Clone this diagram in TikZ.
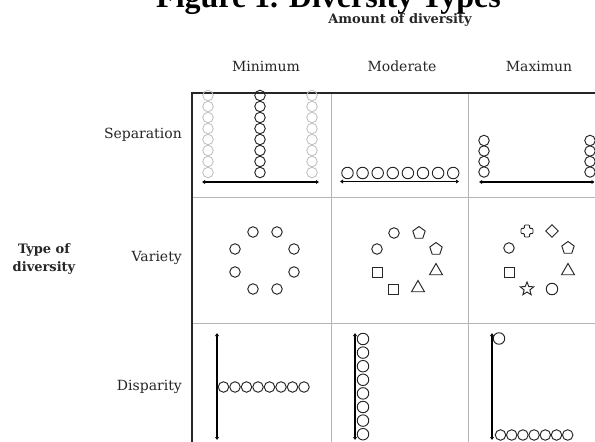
\documentclass[tikz,border=0pt]{standalone}
\usepackage{fontspec}
\setmainfont{DejaVu Serif}
\newfontfamily\titlefont{Liberation Serif}
\usetikzlibrary{shapes.geometric,arrows.meta}
\definecolor{ink}{HTML}{262626}
\definecolor{gridc}{HTML}{B4B4B4}
\definecolor{pale}{HTML}{C4C4C4}
\tikzset{
  lab/.style={font=\fontsize{14}{16}\selectfont, text=ink, inner sep=0},
  hd/.style={font=\bfseries\fontsize{13}{18}\selectfont, text=ink, inner sep=0},
  bord/.style={draw=ink, line width=1.4pt},
  gridln/.style={draw=gridc, line width=0.8pt},
  dot/.style={circle, draw=ink, line width=0.95pt, minimum size=10.5pt, inner sep=0},
  bigdot/.style={dot, minimum size=11.5pt},
  ghost/.style={dot, draw=pale},
  pent/.style={regular polygon, regular polygon sides=5, draw=ink, line width=0.95pt, minimum size=13pt, inner sep=0},
  tri/.style={regular polygon, regular polygon sides=3, draw=ink, line width=0.95pt, minimum size=15pt, inner sep=0},
  sq/.style={rectangle, draw=ink, line width=0.95pt, minimum size=10pt, inner sep=0},
  dia/.style={diamond, draw=ink, line width=0.95pt, minimum size=13pt, inner sep=0},
  starsh/.style={star, star points=5, star point ratio=2.3, draw=ink, line width=0.95pt, minimum size=14pt, inner sep=0},
  span/.style={draw=black, line width=1.4pt, {Latex[length=3pt,width=4.5pt]}-{Latex[length=3pt,width=4.5pt]}},
}
\begin{document}
\begin{tikzpicture}[x=1pt,y=-1pt]
\useasboundingbox (0,0) rectangle (595,442);
\clip (0,0) rectangle (595,442);
\fill[white] (0,0) rectangle (595,442);

% title (cut at the top edge, as in the reference)
\node[anchor=base west, inner sep=0, text=black, font=\titlefont\bfseries\fontsize{32}{34}\selectfont] (title) at (156,7) {Figure 1. Diversity Types};

% headings
\node[hd] (amount) at (400,20) {Amount of diversity};
\node[lab] (cmin) at (266,66) {Minimum};
\node[lab] (cmod) at (402,66) {Moderate};
\node[lab] (cmax) at (539,66) {Maximun};
\node[hd, align=center] (type) at (44,259) {Type of\\diversity};
\node[lab, anchor=east] (rsep) at (182,135) {Separation};
\node[lab, anchor=east] (rvar) at (182,258) {Variety};
\node[lab, anchor=east] (rdis) at (182,387) {Disparity};

% grid
\draw[gridln] (331,93) -- (331,442);
\draw[gridln] (468,93) -- (468,442);
\draw[gridln] (192,197) -- (595,197);
\draw[gridln] (192,323) -- (595,323);
\draw[bord] (595,93) -- (192,93) -- (192,442);

% Separation / Minimum
\foreach \i in {0,...,7} {
  \node[ghost] (sa\i) at (208,{95.5+11*\i}) {};
  \node[dot]   (sb\i) at (260,{95.5+11*\i}) {};
  \node[ghost] (sc\i) at (312,{95.5+11*\i}) {};
}
\coordinate (s1l) at (202,182);
\coordinate (s1r) at (319,182);
\draw[span] (s1l) -- (s1r);

% Separation / Moderate
\foreach \i in {0,...,7} {
  \node[bigdot] (sm\i) at ({347.5+15.1*\i},173) {};
}
\coordinate (s2l) at (340,181.5);
\coordinate (s2r) at (459,181.5);
\draw[span] (s2l) -- (s2r);

% Separation / Maximum
\foreach \i in {0,...,3} {
  \node[dot] (sl\i) at (484,{140.5+10.5*\i}) {};
  \node[dot] (sr\i) at (590,{140.5+10.5*\i}) {};
}
\coordinate (s3l) at (479,182);
\coordinate (s3r) at (594.5,182);
\draw[span] (s3l) -- (s3r);

% Variety / Minimum
\node[dot] (va1) at (253,232) {};
\node[dot] (va2) at (277,232) {};
\node[dot] (va3) at (235,249) {};
\node[dot] (va4) at (294,249) {};
\node[dot] (va5) at (235,272) {};
\node[dot] (va6) at (294,272) {};
\node[dot] (va7) at (253,289) {};
\node[dot] (va8) at (277,289) {};

% Variety / Moderate
\node[dot]  (vb1) at (394,233) {};
\node[pent] (vb2) at (419,233) {};
\node[dot]  (vb3) at (377,249) {};
\node[pent] (vb4) at (436,249) {};
\node[sq]   (vb5) at (377,272) {};
\node[tri]  (vb6) at (436,271) {};
\node[sq]   (vb7) at (393,289) {};
\node[tri]  (vb8) at (418,288) {};

% Variety / Maximum
\coordinate (vc1) at (527,231);
\draw[ink, line width=0.95pt, rounded corners=0.8pt] (vc1) ++(-2.6,-6) -- ++(5.2,0) -- ++(0,3.4) -- ++(3.4,0) -- ++(0,5.2) -- ++(-3.4,0) -- ++(0,3.4) -- ++(-5.2,0) -- ++(0,-3.4) -- ++(-3.4,0) -- ++(0,-5.2) -- ++(3.4,0) -- cycle;
\node[dia]    (vc2) at (552,231) {};
\node[dot]    (vc3) at (509,248) {};
\node[pent]   (vc4) at (568,248) {};
\node[sq]     (vc5) at (509,272) {};
\node[tri]    (vc6) at (568,271) {};
\node[starsh] (vc7) at (527,289) {};
\node[bigdot] (vc8) at (552,289) {};

% Disparity / Minimum
\coordinate (d1t) at (217,333);
\coordinate (d1b) at (217,440);
\draw[span] (d1t) -- (d1b);
\foreach \i in {0,...,7} {
  \node[dot] (da\i) at ({223.5+11.5*\i},387) {};
}

% Disparity / Moderate
\coordinate (d2t) at (355,333);
\coordinate (d2b) at (355,440);
\draw[span] (d2t) -- (d2b);
\foreach \i in {0,...,7} {
  \node[bigdot] (db\i) at (363,{339+13.6*\i}) {};
}

% Disparity / Maximum
\coordinate (d3t) at (492,333);
\coordinate (d3b) at (492,440);
\draw[span] (d3t) -- (d3b);
\node[bigdot] (dc0) at (499,338.5) {};
\foreach \i in {0,...,6} {
  \node[dot] (dr\i) at ({500.5+11.2*\i},435) {};
}
\end{tikzpicture}
\end{document}
